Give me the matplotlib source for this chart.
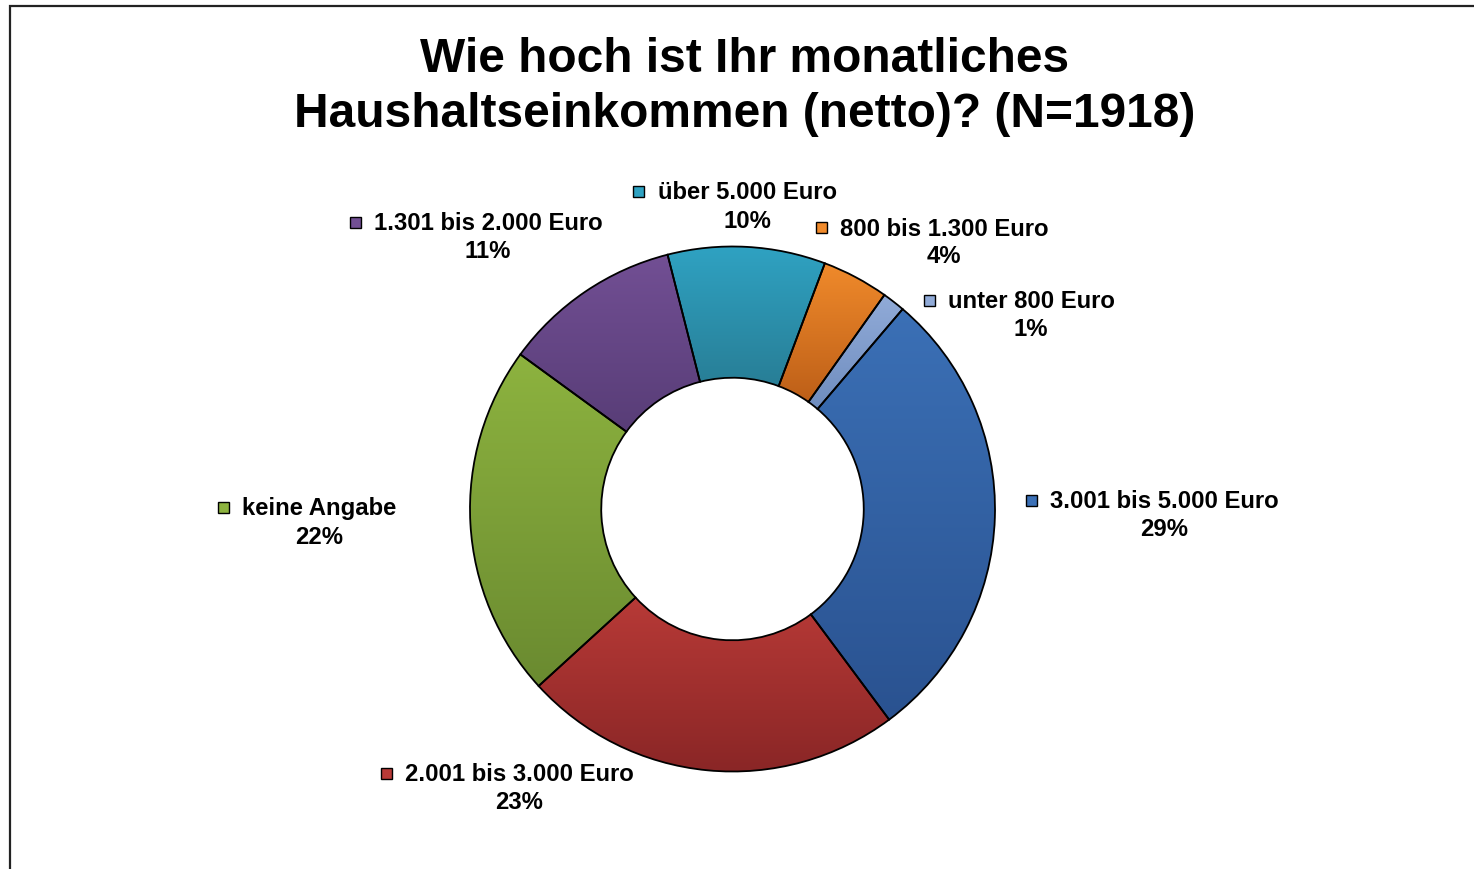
import numpy as np
import matplotlib.pyplot as plt
from matplotlib.patches import Rectangle
from matplotlib.colors import LinearSegmentedColormap

plt.rcParams['font.family'] = ['Liberation Sans', 'DejaVu Sans']

# data, clockwise starting at the unter 800 / 3.001 boundary
categories = ['3.001 bis 5.000 Euro', '2.001 bis 3.000 Euro', 'keine Angabe',
              '1.301 bis 2.000 Euro', 'über 5.000 Euro', '800 bis 1.300 Euro',
              'unter 800 Euro']
shares = [28.6, 23.4, 21.8, 11.0, 9.7, 4.1, 1.4]

# top / bottom colours of each slice gradient
top_colors = ['#3b70b6', '#b83a37', '#8db33f', '#724f94', '#2fa2c2', '#f08a2b', '#91abd8']
bottom_colors = ['#2a5290', '#8a2626', '#6a8a30', '#583d77', '#287e96', '#bd5f18', '#6f8dbf']

# label layout in figure pixels: (key x, text centre x, first line y)
label_pos = [(1032, 1164, 502), (387, 519, 775), (224, 319, 509),
             (356, 488, 224), (639, 747, 193), (822, 944, 229), (930, 1031, 302)]

W, H = 1474, 870
fig = plt.figure(figsize=(W / 100, H / 100), dpi=100)

# frame (only left and top visible in the original)
fig.patches.append(Rectangle((10 / W, -0.2), 2.0, 1.2 - 7 / H, transform=fig.transFigure,
                             fill=False, edgecolor='#222222', linewidth=1.6))

cx, cy, r = 732.5, 510, 262.5
ax = fig.add_axes([(cx - r) / W, (H - cy - r) / H, 2 * r / W, 2 * r / H])
wedges, _ = ax.pie(shares, startangle=90 - 40.4, counterclock=False, radius=1,
                   colors=top_colors,
                   wedgeprops=dict(width=0.5, edgecolor='black', linewidth=1.3))
ax.axis('off')

grad = np.linspace(1, 0, 256).reshape(-1, 1)
fig.canvas.draw()
for w, c1, c2 in zip(wedges, top_colors, bottom_colors):
    bb = w.get_path().get_extents(w.get_patch_transform())
    cmap = LinearSegmentedColormap.from_list('g', [c2, c1])
    im = ax.imshow(grad, cmap=cmap, extent=[bb.x0, bb.x1, bb.y0, bb.y1],
                   aspect='auto', zorder=1, interpolation='bilinear')
    im.set_clip_path(w)
    w.set_facecolor('none')
    w.set_zorder(2)
ax.set_xlim(-1.0, 1.0)
ax.set_ylim(-1.0, 1.0)
ax.set_aspect('equal')

fig.text(745 / W, 1 - 87 / H, 'Wie hoch ist Ihr monatliches\nHaushaltseinkommen (netto)? (N=1918)',
         ha='center', va='center', fontsize=34.5, fontweight='bold', linespacing=1.3)

for cat, val, col, (kx, tx, ty) in zip(categories, shares, top_colors, label_pos):
    fig.patches.append(Rectangle(((kx - 6) / W, 1 - (ty + 5) / H), 11 / W, 11 / H,
                                 transform=fig.transFigure, facecolor=col,
                                 edgecolor='black', linewidth=1.0))
    fig.text(tx / W, 1 - ty / H, cat, ha='center', va='center', fontsize=17.2, fontweight='bold')
    fig.text(tx / W, 1 - (ty + 28) / H, f'{round(val):d}%', ha='center', va='center',
             fontsize=17.2, fontweight='bold')

fig.savefig('out.png', dpi=100)
